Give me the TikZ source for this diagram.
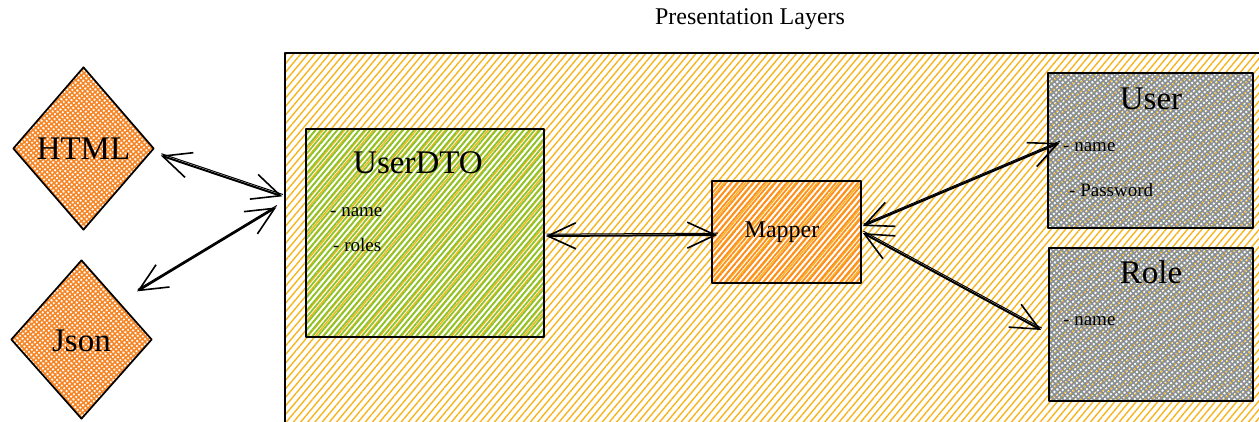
\documentclass[tikz,border=0pt]{standalone}
\usepackage{fontspec}
\setmainfont{Liberation Serif}
\usetikzlibrary{patterns.meta,shapes.geometric,arrows.meta,calc}

\definecolor{layerhatch}{RGB}{246,180,30}
\definecolor{dtohatch}{RGB}{138,196,42}
\definecolor{mapperhatch}{RGB}{255,140,30}
\definecolor{entityhatch}{RGB}{134,142,150}
\definecolor{formathatch}{RGB}{245,132,36}

\newcommand{\fs}[1]{\fontsize{#1}{#1}\selectfont}

\tikzset{
  sketchborder/.style={draw=black, line width=1.7pt, line join=round},
  layerbox/.style={sketchborder, rectangle, inner sep=0pt,
    pattern={Lines[angle=50,distance=5.5pt,line width=1.4pt]}, pattern color=layerhatch},
  dtobox/.style={sketchborder, rectangle, inner sep=0pt,
    pattern={Lines[angle=50,distance=4.2pt,line width=1.8pt]}, pattern color=dtohatch},
  mapperbox/.style={sketchborder, rectangle, inner sep=0pt,
    pattern={Lines[angle=50,distance=4.2pt,line width=1.8pt]}, pattern color=mapperhatch},
  entitybox/.style={sketchborder, rectangle, inner sep=0pt,
    preaction={pattern={Lines[angle=40,distance=3.8pt,line width=1.6pt]}, pattern color=entityhatch},
    pattern={Lines[angle=-50,distance=3.8pt,line width=1.6pt]}, pattern color=entityhatch},
  formatbox/.style={sketchborder, diamond, inner sep=0pt, aspect=0.87,
    preaction={pattern={Lines[angle=40,distance=3.6pt,line width=1.6pt]}, pattern color=formathatch},
    pattern={Lines[angle=-50,distance=3.6pt,line width=1.6pt]}, pattern color=formathatch},
  boxtitle/.style={inner sep=0pt, font=\fs{33}},
  field/.style={inner sep=0pt, anchor=west, font=\fs{19}},
  barb/.tip={Straight Barb[length=28pt,width=26pt,line width=1.6pt]},
  link/.style={barb-barb, line width=2pt, draw=black,
    postaction={draw, -, line width=1pt, transform canvas={shift={(0.6pt,1.8pt)}}}},
}

\begin{document}
\begin{tikzpicture}[x=1pt,y=-1pt]
\useasboundingbox (0,0) rectangle (1259,421);

% the presentation layer frame runs past the right and bottom edges
\begin{scope}
  \clip (0,0) rectangle (1259,421);
  \node[layerbox, minimum width=995pt, minimum height=387pt] (layer) at (782.5,246.5) {};
\end{scope}

\node[inner sep=0pt, font=\fs{24}] (title) at (750,19) {Presentation Layers};

% client formats
\node[formatbox, minimum width=141pt, minimum height=163pt] (html) at (83.5,148.5) {};
\node[boxtitle] (htmltext) at (83.5,149) {HTML};
\node[formatbox, minimum width=141pt, minimum height=159pt] (json) at (81.5,339.5) {};
\node[boxtitle] (jsontext) at (81.5,341) {Json};

% DTO
\node[dtobox, minimum width=238pt, minimum height=208pt] (dto) at (425,233) {};
\node[boxtitle] (dtotitle) at (418,163) {UserDTO};
\node[field] (dtoname) at (330,212) {- name};
\node[field] (dtoroles) at (333,245) {- roles};

% mapper
\node[mapperbox, minimum width=149pt, minimum height=102pt] (mapper) at (786.5,232) {};
\node[inner sep=0pt, font=\fs{24}] (mappertext) at (782,232) {Mapper};

% entities
\node[entitybox, minimum width=205pt, minimum height=155pt] (user) at (1150.5,150.5) {};
\node[boxtitle] (usertitle) at (1151,99) {User};
\node[field] (username) at (1063,147) {- name};
\node[field] (userpass) at (1069,190) {- Password};

\node[entitybox, minimum width=204pt, minimum height=153pt] (role) at (1151,324.5) {};
\node[boxtitle] (roletitle) at (1151,272) {Role};
\node[field] (rolename) at (1063,321) {- name};

% connectors
\draw[link] ($(html.east)+(6,7)$) -- ($(layer.north west)+(-2,144)$);
\draw[link] ($(json.north east)+(20,-8)$) -- ($(layer.north west)+(-8,155)$);
\draw[link] ($(dto.east)+(1,3)$) -- ($(mapper.west)+(6,3)$);
\draw[link] ($(mapper.east)+(1,-6)$) -- ($(user.west)+(12,-7.5)$);
\draw[link] ($(mapper.east)+(1,1)$) -- ($(role.west)+(-7,5.5)$);
\end{tikzpicture}
\end{document}
